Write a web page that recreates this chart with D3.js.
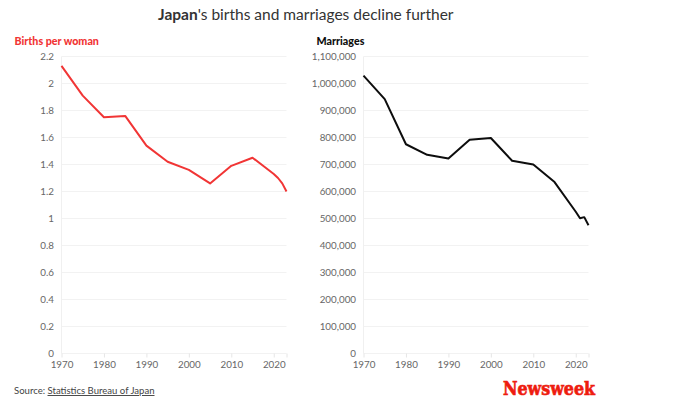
<!DOCTYPE html>
<html><head><meta charset="utf-8">
<script src="https://cdn.jsdelivr.net/npm/d3@7/dist/d3.min.js"></script>
<style>
html,body{margin:0;padding:0;background:#fff}
svg{display:block}
text{font-family:"Lato",sans-serif}
</style></head><body>
<script>
const years=[1970,1975,1980,1985,1990,1995,2000,2005,2010,2015,2020,2021,2022,2023];
const births=[2.13,1.91,1.75,1.76,1.54,1.42,1.36,1.26,1.39,1.45,1.33,1.30,1.26,1.20];
const marriages=[1029000,942000,775000,736000,722000,792000,798000,714000,700000,635000,525000,501000,505000,475000];
const birthTicks=[0,0.2,0.4,0.6,0.8,1,1.2,1.4,1.6,1.8,2,2.2];
const marriageTicks=[0,100000,200000,300000,400000,500000,600000,700000,800000,900000,1000000,1100000];
const yearTicks=[1970,1980,1990,2000,2010,2020];

const svg=d3.select("body").append("svg").attr("width",695).attr("height",409);

const title=svg.append("text").attr("x",158).attr("y",20)
  .attr("font-size",15.5).attr("fill","#333");
title.append("tspan").attr("font-weight",700).text("Japan");
title.append("tspan").text("'s births and marriages decline further");

function panel(x0,x1,vals,ticks,max,fmt,color,label,labelX){
  const x=d3.scaleLinear().domain([1970,2023]).range([x0,x1]);
  const y=d3.scaleLinear().domain([0,max]).range([353.5,56.5]);
  const g=svg.append("g");
  g.append("g").selectAll("line").data(ticks).join("line")
    .attr("x1",x0).attr("x2",x1).attr("y1",d=>y(d)).attr("y2",d=>y(d))
    .attr("stroke","#f2f2f2").attr("stroke-width",1);
  g.append("line").attr("x1",x0).attr("x2",x0).attr("y1",56.5).attr("y2",353.5).attr("stroke","#f0f0f0");
  const ya=g.append("g").attr("transform",`translate(${x0},0)`)
    .call(d3.axisLeft(y).tickValues(ticks).tickFormat(fmt).tickSize(0).tickPadding(7.5));
  ya.select(".domain").remove();
  ya.selectAll("text").attr("font-size",9.8).attr("fill","#666").attr("font-family",'"Lato",sans-serif');
  const xa=g.append("g").attr("transform","translate(0,353.5)")
    .call(d3.axisBottom(x).tickValues(yearTicks.concat([2023])).tickFormat(d=>d===2023?"":String(d)).tickSize(4).tickPadding(3.5));
  xa.select(".domain").remove();
  xa.selectAll("line").attr("stroke","#e6e6e6");
  xa.selectAll("text").attr("font-size",9.8).attr("fill","#666").attr("font-family",'"Lato",sans-serif');
  const line=d3.line().x((d,i)=>x(years[i])).y(d=>y(d));
  g.append("path").datum(vals).attr("d",line).attr("fill","none").attr("stroke",color)
    .attr("stroke-width",2).attr("stroke-linejoin","round");
  g.append("text").attr("x",labelX).attr("y",45).attr("font-size",10.7).attr("font-weight",900)
    .attr("fill",color).text(label);
}
panel(61.5,286.5,births,birthTicks,2.2,d=>String(d),"#f13535","Births per woman",14.5);
panel(363.5,588.5,marriages,marriageTicks,1100000,d3.format(","),"#0d0d0d","Marriages",316.5);

const src=svg.append("text").attr("x",14).attr("y",394).attr("font-size",9.55).attr("fill","#444");
src.append("tspan").text("Source: ");
src.append("tspan").attr("text-decoration","underline").text("Statistics Bureau of Japan");

svg.append("text").attr("x",503).attr("y",395).attr("font-size",18.5).attr("font-weight",700)
  .attr("fill","#ee1c0f").attr("stroke","#ee1c0f").attr("stroke-width",0.7)
  .attr("textLength",92).attr("lengthAdjust","spacingAndGlyphs")
  .style("font-family",'"DejaVu Serif",serif').text("Newsweek");
</script>
</body></html>
